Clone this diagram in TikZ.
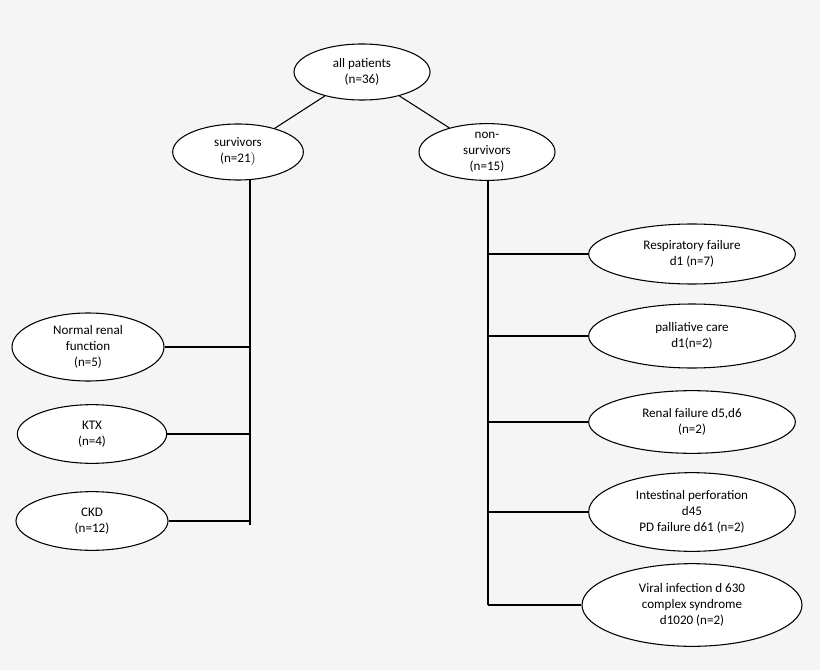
\documentclass[tikz,border=0pt]{standalone}
\usepackage{fontspec}
\setmainfont{Carlito}
\usepackage{tikz}
\usetikzlibrary{shapes.geometric,calc}
\definecolor{paper}{gray}{0.96}

\begin{document}
\begin{tikzpicture}[x=0.75pt,y=-0.75pt]

\tikzset{oval/.style={shape=ellipse,draw=black,thick,fill=white,inner sep=0pt,align=center,font=\fontsize{9.8}{12}\selectfont},
link/.style={draw=black,thick}}

% Background
\fill[paper] (0,0) rectangle (820,670);
\useasboundingbox (0,0) rectangle (820,670);

% Top nodes
\node[oval,minimum width=102pt,minimum height=42pt] (all) at (362,72) {all patients\\(n=36)};
\node[oval,minimum width=98pt,minimum height=42pt] (surv) at (238,152) {survivors\\(n=21$)$};
\node[oval,minimum width=102pt,minimum height=42pt] (nonsurv) at (487,152) {non-\\survivors\\(n=15)};

% Survivor groups
\node[oval,minimum width=114pt,minimum height=51pt] (normal) at (88,347) {Normal renal\\function\\(n=5)};
\node[oval,minimum width=112pt,minimum height=44pt] (ktx) at (92,434) {KTX\\(n=4)};
\node[oval,minimum width=114pt,minimum height=44pt] (ckd) at (92,521) {CKD\\(n=12)};

% Non-survivor groups
\node[oval,minimum width=155pt,minimum height=45pt] (resp) at (692,254) {Respiratory failure\\d1 (n=7)};
\node[oval,minimum width=155pt,minimum height=48pt] (pall) at (692,336) {palliative care\\d1(n=2)};
\node[oval,minimum width=155pt,minimum height=47pt] (renal) at (692,422) {Renal failure d5,d6\\(n=2)};
\node[oval,minimum width=155pt,minimum height=59pt] (intest) at (692,512) {Intestinal perforation\\d45\\PD failure d61 (n=2)};
\node[oval,minimum width=165pt,minimum height=62pt] (viral) at (692,605) {Viral infection d 630\\complex syndrome\\d1020 (n=2)};

% Bus lines
\coordinate (sTop) at (250,180);
\coordinate (sBot) at (250,525);
\coordinate (nTop) at (488,180);
\coordinate (nBot) at (488,605);

% Edges
\draw[link] (all) -- (surv); \draw[link] (all) -- (nonsurv);
\draw[link] (sTop) -- (sBot); \draw[link] (nTop) -- (nBot);
\draw[link] (normal) -- (normal -| sTop); \draw[link] (ktx) -- (ktx -| sTop); \draw[link] (ckd) -- (ckd -| sTop);
\draw[link] (resp) -- (resp -| nTop); \draw[link] (pall) -- (pall -| nTop); \draw[link] (renal) -- (renal -| nTop);
\draw[link] (intest) -- (intest -| nTop); \draw[link] (viral) -- (viral -| nTop);

\end{tikzpicture}
\end{document}
